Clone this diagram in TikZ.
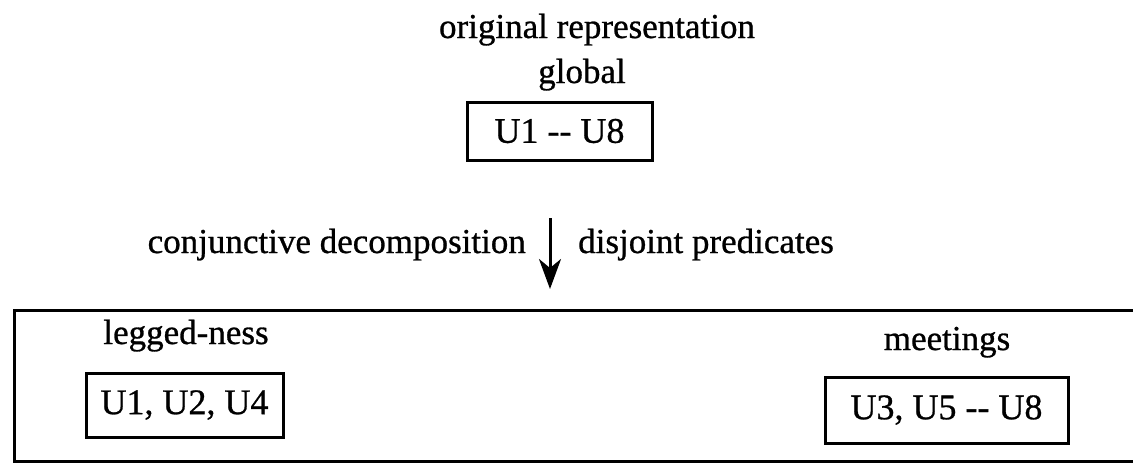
\documentclass[tikz,border=0pt]{standalone}
\usepackage{fontspec}
\setmainfont[FakeBold=0.8]{Liberation Serif}
\usetikzlibrary{arrows.meta}
\begin{document}
\begin{tikzpicture}[x=1pt,y=-1pt,
  lbl/.style={font=\fontsize{35}{40}\selectfont, inner sep=0pt, anchor=base},
  ubox/.style={draw, line width=3pt, font=\fontsize{36}{42}\selectfont, inner sep=0pt},
  outerbox/.style={draw, line width=3pt}]
\useasboundingbox (0,0) rectangle (1133,464);
\node[lbl] (orig) at (597,38) {original representation};
\node[lbl] (glob) at (582,83) {global};
\node[ubox, minimum width=185pt, minimum height=58pt] (top) at (559.5,131) {U1 -{}- U8};
\coordinate (astart) at (550,218);
\coordinate (aend) at (550,289);
\draw[line width=3pt, -{Stealth[length=30pt,width=22pt,inset=9pt]}] (astart) -- (aend);
\node[lbl, anchor=base east] (conj) at (526,253) {conjunctive decomposition};
\node[lbl, anchor=base west] (disj) at (578,253) {disjoint predicates};
\node[outerbox, minimum width=1140pt, minimum height=151pt, anchor=north west] (outer) at (13,309) {};
\node[lbl] (leg) at (186,344) {legged-ness};
\node[ubox, minimum width=197pt, minimum height=64pt] (legbox) at (184.5,405) {U1, U2, U4};
\node[lbl] (meet) at (947,350) {meetings};
\node[ubox, minimum width=243pt, minimum height=66pt] (meetbox) at (946.5,410) {U3, U5 -{}- U8};
\end{tikzpicture}
\end{document}
